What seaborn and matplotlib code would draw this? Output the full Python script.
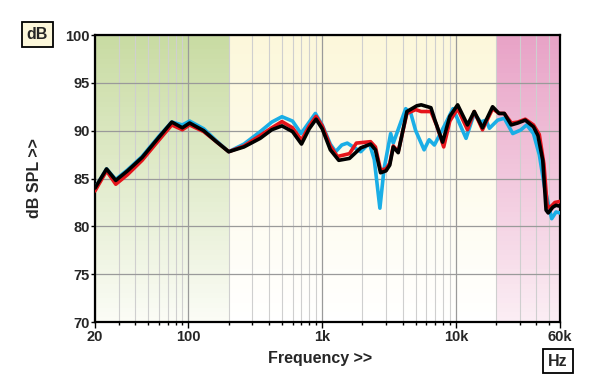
import matplotlib
matplotlib.use("Agg")
import matplotlib.pyplot as plt
import matplotlib.ticker as mticker
import numpy as np
import pandas as pd
import seaborn as sns

# frequency response readings (Hz, dB SPL)
black_hz = [20, 24.4, 28.6, 35, 45, 60, 75, 90, 102, 130, 160, 200, 260, 344, 420, 500,
            600, 700, 800, 900, 1000, 1150, 1330, 1600, 1940, 2300, 2500, 2730, 3000, 3200,
            3400, 3700, 4300, 5100, 5500, 6500, 7000, 7950, 9000, 10300, 12200, 13700,
            15800, 18800, 21000, 23000, 25900, 29000, 33000, 38000, 41000, 44600, 47200,
            49000, 53000, 56000, 60000]
black_db = [84.0, 86.0, 84.8, 85.8, 87.2, 89.3, 90.9, 90.3, 90.8, 90.0, 88.9, 87.8, 88.3,
            89.2, 90.1, 90.5, 89.9, 88.6, 90.2, 91.2, 90.2, 88.0, 86.9, 87.1, 88.2, 88.6,
            88.0, 85.6, 85.8, 86.4, 88.3, 87.7, 92.0, 92.6, 92.7, 92.4, 91.0, 88.8, 91.5,
            92.7, 90.6, 92.0, 90.3, 92.5, 91.8, 91.8, 90.6, 90.8, 91.1, 90.4, 89.5, 86.9,
            81.7, 81.4, 82.0, 82.2, 82.1]

red_hz = [20, 24.4, 28.6, 35, 45, 60, 75, 90, 102, 130, 160, 200, 260, 344, 420, 500,
          600, 700, 800, 900, 1000, 1150, 1300, 1600, 1800, 2300, 2500, 2730, 3000, 3200,
          3400, 3700, 4300, 5000, 5500, 6500, 7200, 8100, 9000, 10300, 12200, 13700,
          15800, 18800, 21000, 23000, 26000, 29000, 33000, 38000, 42000, 45500, 48000,
          50000, 55000, 60000]
red_db = [83.7, 85.8, 84.4, 85.4, 86.9, 89.0, 90.6, 90.1, 90.6, 89.9, 88.9, 87.8, 88.4,
          89.5, 90.3, 90.95, 90.3, 89.0, 90.5, 91.5, 90.5, 88.4, 87.3, 87.6, 88.7, 88.85,
          88.3, 85.9, 86.0, 86.6, 88.4, 87.8, 91.8, 92.2, 92.0, 92.0, 90.5, 88.3, 91.0,
          92.3, 90.1, 92.0, 90.1, 92.3, 91.8, 91.8, 90.8, 90.9, 91.2, 90.6, 89.6, 86.5,
          82.3, 81.9, 82.5, 82.6]

cyan_hz = [20, 24.4, 28.6, 35, 45, 60, 75, 90, 102, 130, 160, 200, 260, 344, 420, 500,
           600, 695, 800, 889, 1000, 1150, 1260, 1400, 1540, 1940, 2250, 2450, 2700, 2900,
           3250, 3400, 4210, 4600, 5000, 5780, 6300, 6900, 8400, 9500, 11900, 13700, 15300,
           16800, 17800, 20500, 23000, 26600, 30500, 33800, 38000, 42000, 46000, 52000,
           56000, 60000]
cyan_db = [84.0, 86.0, 84.9, 85.9, 87.3, 89.4, 90.9, 90.6, 91.0, 90.2, 89.0, 87.8, 88.6,
           89.9, 90.9, 91.46, 91.0, 89.7, 90.9, 91.8, 90.6, 88.6, 87.8, 88.5, 88.7, 87.8,
           88.7, 87.0, 81.9, 86.0, 89.7, 88.7, 92.3, 91.8, 90.0, 88.0, 89.05, 88.5, 90.8,
           92.3, 89.2, 91.8, 90.9, 91.1, 90.25, 91.1, 91.3, 89.7, 90.07, 90.6, 89.7, 87.5,
           84.1, 80.8, 81.5, 81.4]

# shaded bands: (start Hz, end Hz, top colour, bottom colour)
bands = [(20, 200, "#c8dba2", "#fbfcf6"),
         (200, 20000, "#fcf7da", "#ffffff"),
         (20000, 60000, "#e8a2c6", "#fbeef4")]

xticks = [20, 100, 1000, 10000, 60000]
xticklabels = ["20", "100", "1k", "10k", "60k"]
yticks = [70, 75, 80, 85, 90, 95, 100]

df = pd.concat([
    pd.DataFrame({"hz": cyan_hz, "db": cyan_db, "trace": "c"}),
    pd.DataFrame({"hz": red_hz, "db": red_db, "trace": "r"}),
    pd.DataFrame({"hz": black_hz, "db": black_db, "trace": "k"}),
])

sns.set_theme(style="white")
plt.rcParams["font.family"] = ["Liberation Sans", "DejaVu Sans"]
plt.rcParams["font.weight"] = "bold"

fig = plt.figure(figsize=(6, 3.89), dpi=100)
ax = fig.add_axes([95 / 600, 1 - 322 / 389, 465 / 600, 287 / 389])
ax.set_xscale("log")
ax.set_xlim(20, 60000)
ax.set_ylim(70, 100)

# vertical gradient backgrounds
steps = 60
edges = np.linspace(70, 100, steps + 1)
for x0, x1, top, bot in bands:
    ct = np.array(matplotlib.colors.to_rgb(top))
    cb = np.array(matplotlib.colors.to_rgb(bot))
    for i in range(steps):
        t = (i + 0.5) / steps
        ax.fill_between([x0, x1], edges[i], edges[i + 1], color=cb + (ct - cb) * t,
                        linewidth=0, zorder=0)

# grid
ax.set_xticks(xticks)
ax.xaxis.set_minor_locator(mticker.LogLocator(base=10, subs=np.arange(2, 10)))
ax.xaxis.set_minor_formatter(mticker.NullFormatter())
ax.set_xticklabels(xticklabels)
ax.set_yticks(yticks)
ax.grid(which="major", color="#9a9a9a", linewidth=0.9, zorder=1)
ax.grid(which="minor", axis="x", color="#cfcfcf", linewidth=0.8, zorder=1)
ax.set_axisbelow(True)

sns.lineplot(data=df, x="hz", y="db", hue="trace", estimator=None, sort=False,
             palette={"c": "#1aaee6", "r": "#e5141b", "k": "#000000"},
             linewidth=2.6, legend=False, ax=ax, zorder=3,
             solid_joinstyle="round", solid_capstyle="round")

for s in ax.spines.values():
    s.set_color("black")
    s.set_linewidth(1.6)

ax.tick_params(axis="both", which="major", direction="out", length=3, width=1,
               color="black", labelsize=10.5, pad=1, bottom=True, left=True)
ax.tick_params(axis="x", which="minor", direction="out", length=2, width=1,
               color="black", bottom=True)
ax.tick_params(axis="x", which="major", length=4, pad=2)
for lab in ax.get_xticklabels() + ax.get_yticklabels():
    lab.set_fontweight("bold")

ax.set_xlabel("Frequency >>", fontsize=11.5, fontweight="bold")
ax.set_ylabel("dB SPL >>", fontsize=11.5, fontweight="bold")
ax.xaxis.set_label_coords(0.485, -29 / 287)
ax.yaxis.set_label_coords(-53 / 465, 0.5)

fig.text(37.5 / 600, 1 - 34.5 / 389, "dB", ha="center", va="center", fontsize=11.5,
         fontweight="bold",
         bbox=dict(boxstyle="square,pad=0.3", fc="#fcf7da", ec="black", lw=1.3))
fig.text(558 / 600, 1 - 361 / 389, "Hz", ha="center", va="center", fontsize=11.5,
         fontweight="bold",
         bbox=dict(boxstyle="square,pad=0.3", fc="white", ec="black", lw=1.3))

fig.savefig("out.png", dpi=100)
